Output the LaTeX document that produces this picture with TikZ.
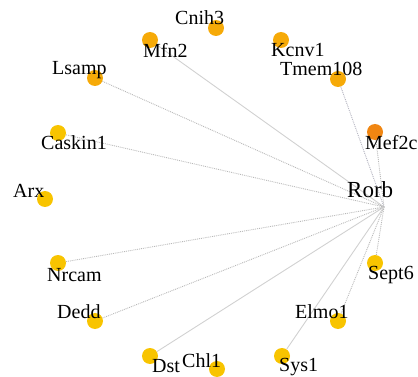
\documentclass[tikz,border=0pt]{standalone}
\usepackage{fontspec}
\setmainfont{Liberation Serif}
\definecolor{genegold}{HTML}{F8C400}
\definecolor{geneamber}{HTML}{F6AA08}
\definecolor{geneorange}{HTML}{F08612}
\begin{document}
\begin{tikzpicture}[x=1pt,y=-1pt,
    gene/.style={circle, fill=#1, inner sep=0pt, minimum size=16pt},
    gene/.default=genegold,
    genelabel/.style={anchor=base west, inner sep=0pt, font=\fontsize{20}{20}\selectfont},
    tie/.style={draw=black!28, densely dotted, line width=0.9pt},
    tiesolid/.style={draw=black!18, line width=0.9pt}]
    \useasboundingbox (0,0) rectangle (418,377);

    % genes round Rorb
    \node (cnih3) at (216,28) [gene=geneamber] {};
    \node (mfn2) at (150,40) [gene=geneamber] {};
    \node (kcnv1) at (281,40) [gene=geneamber] {};
    \node (tmem108) at (338,79) [gene=geneamber] {};
    \node (lsamp) at (95,78) [gene=geneamber] {};
    \node (caskin1) at (58,133) [gene] {};
    \node (mef2c) at (375,132) [gene=geneorange] {};
    \node (arx) at (45,199) [gene] {};
    \node (nrcam) at (58,263) [gene] {};
    \node (sept6) at (375,263) [gene] {};
    \node (dedd) at (95,321) [gene] {};
    \node (elmo1) at (338,321) [gene] {};
    \node (dst) at (150,356) [gene] {};
    \node (chl1) at (217,369) [gene] {};
    \node (sys1) at (282,356) [gene] {};
    \coordinate (rorb) at (384,207);

    % edges
    \draw[tiesolid] (mfn2) -- (rorb);
    \draw[tie] (lsamp) -- (rorb);
    \draw[tie] (caskin1) -- (rorb);
    \draw[tie, draw=blue!15!black!30] (tmem108) -- (rorb);
    \draw[tie] (mef2c) -- (rorb);
    \draw[tie] (nrcam) -- (rorb);
    \draw[tie] (dedd) -- (rorb);
    \draw[tiesolid] (dst) -- (rorb);
    \draw[tie] (sept6) -- (rorb);
    \draw[tie] (elmo1) -- (rorb);
    \draw[tiesolid] (sys1) -- (rorb);

    % labels
    \node[genelabel] (cnih3-l) at (175,25) {Cnih3};
    \node[genelabel] (mfn2-l) at (143,58) {Mfn2};
    \node[genelabel] (kcnv1-l) at (271,57) {Kcnv1};
    \node[genelabel] (tmem108-l) at (280,76) {Tmem108};
    \node[genelabel] (lsamp-l) at (52,75) {Lsamp};
    \node[genelabel] (caskin1-l) at (41,150) {Caskin1};
    \node[genelabel] (mef2c-l) at (365,150) {Mef2c};
    \node[genelabel, font=\fontsize{23}{24}\selectfont] (rorb-l) at (347,198) {Rorb};
    \node[genelabel] (arx-l) at (13,197) {Arx};
    \node[genelabel] (nrcam-l) at (47,281) {Nrcam};
    \node[genelabel] (sept6-l) at (368,279) {Sept6};
    \node[genelabel] (dedd-l) at (57,318) {Dedd};
    \node[genelabel] (elmo1-l) at (295,318) {Elmo1};
    \node[genelabel] (dst-l) at (152,372) {Dst};
    \node[genelabel] (chl1-l) at (182,367) {Chl1};
    \node[genelabel] (sys1-l) at (279,371) {Sys1};
\end{tikzpicture}
\end{document}
